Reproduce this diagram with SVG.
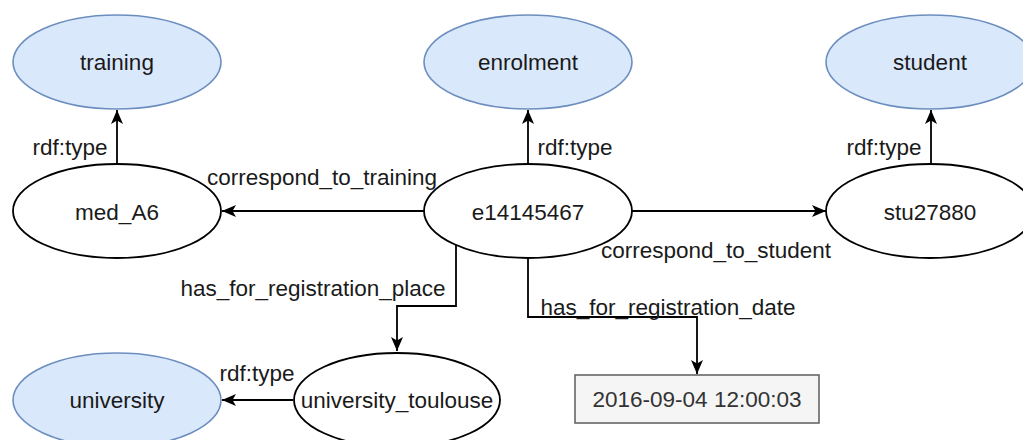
<svg xmlns="http://www.w3.org/2000/svg" width="1023" height="440" viewBox="0 0 1023 440">
<style>
text{font-family:"Liberation Sans",Arial,Helvetica,sans-serif;font-size:22.5px;fill:#1a1a1a;text-anchor:middle}
.cls{fill:#dae8fc;stroke:#6c8ebf;stroke-width:1.6}
.ind{fill:#ffffff;stroke:#000;stroke-width:1.8}
.lit{fill:#f5f5f5;stroke:#666666;stroke-width:1.6}
.lit-t{fill:#333333}
.edge{fill:none;stroke:#000;stroke-width:1.8}
</style>
<defs>
<marker id="arr" markerUnits="userSpaceOnUse" markerWidth="16" markerHeight="16" viewBox="0 0 16 16" refX="15" refY="8" orient="auto">
<path d="M1,2 L15,8 L1,14 L4.5,8 Z" fill="#000"/>
</marker>
</defs>
<rect width="1023" height="440" fill="#fff"/>
<g id="connectors">
<path class="edge" d="M117,163 V110" marker-end="url(#arr)"/>
<path class="edge" d="M528,163 V110" marker-end="url(#arr)"/>
<path class="edge" d="M931,163 V110" marker-end="url(#arr)"/>
<path class="edge" d="M425,211 H222" marker-end="url(#arr)"/>
<path class="edge" d="M632,211 H826" marker-end="url(#arr)"/>
<path class="edge" d="M456,245 V306 H397 V351" marker-end="url(#arr)"/>
<path class="edge" d="M528,258 V317 H697 V374" marker-end="url(#arr)"/>
<path class="edge" d="M293,400 H222" marker-end="url(#arr)"/>
<text x="70" y="155">rdf:type</text>
<text x="575" y="155">rdf:type</text>
<text x="884" y="155">rdf:type</text>
<text x="322" y="185">correspond_to_training</text>
<text x="716" y="258">correspond_to_student</text>
<text x="313" y="296">has_for_registration_place</text>
<text x="668" y="315">has_for_registration_date</text>
<text x="257" y="381">rdf:type</text>
</g>
<g id="training"><ellipse class="cls" cx="117" cy="62" rx="104" ry="47"/><text x="117" y="70">training</text></g>
<g id="enrolment"><ellipse class="cls" cx="528" cy="62" rx="104" ry="47"/><text x="528" y="70">enrolment</text></g>
<g id="student"><ellipse class="cls" cx="930" cy="62" rx="104" ry="47"/><text x="930" y="70">student</text></g>
<g id="med_A6"><ellipse class="ind" cx="117" cy="211" rx="104" ry="47"/><text x="117" y="220">med_A6</text></g>
<g id="e14145467"><ellipse class="ind" cx="528" cy="211" rx="104" ry="47"/><text x="528" y="220">e14145467</text></g>
<g id="stu27880"><ellipse class="ind" cx="930" cy="211" rx="104" ry="47"/><text x="930" y="220">stu27880</text></g>
<g id="university"><ellipse class="cls" cx="117" cy="400" rx="104" ry="47"/><text x="117" y="408">university</text></g>
<g id="university_toulouse"><ellipse class="ind" cx="397" cy="400" rx="103" ry="47"/><text x="397" y="408">university_toulouse</text></g>
<g id="date"><rect class="lit" x="575" y="375" width="244" height="48"/><text class="lit-t" x="697" y="407">2016-09-04 12:00:03</text></g>
</svg>
